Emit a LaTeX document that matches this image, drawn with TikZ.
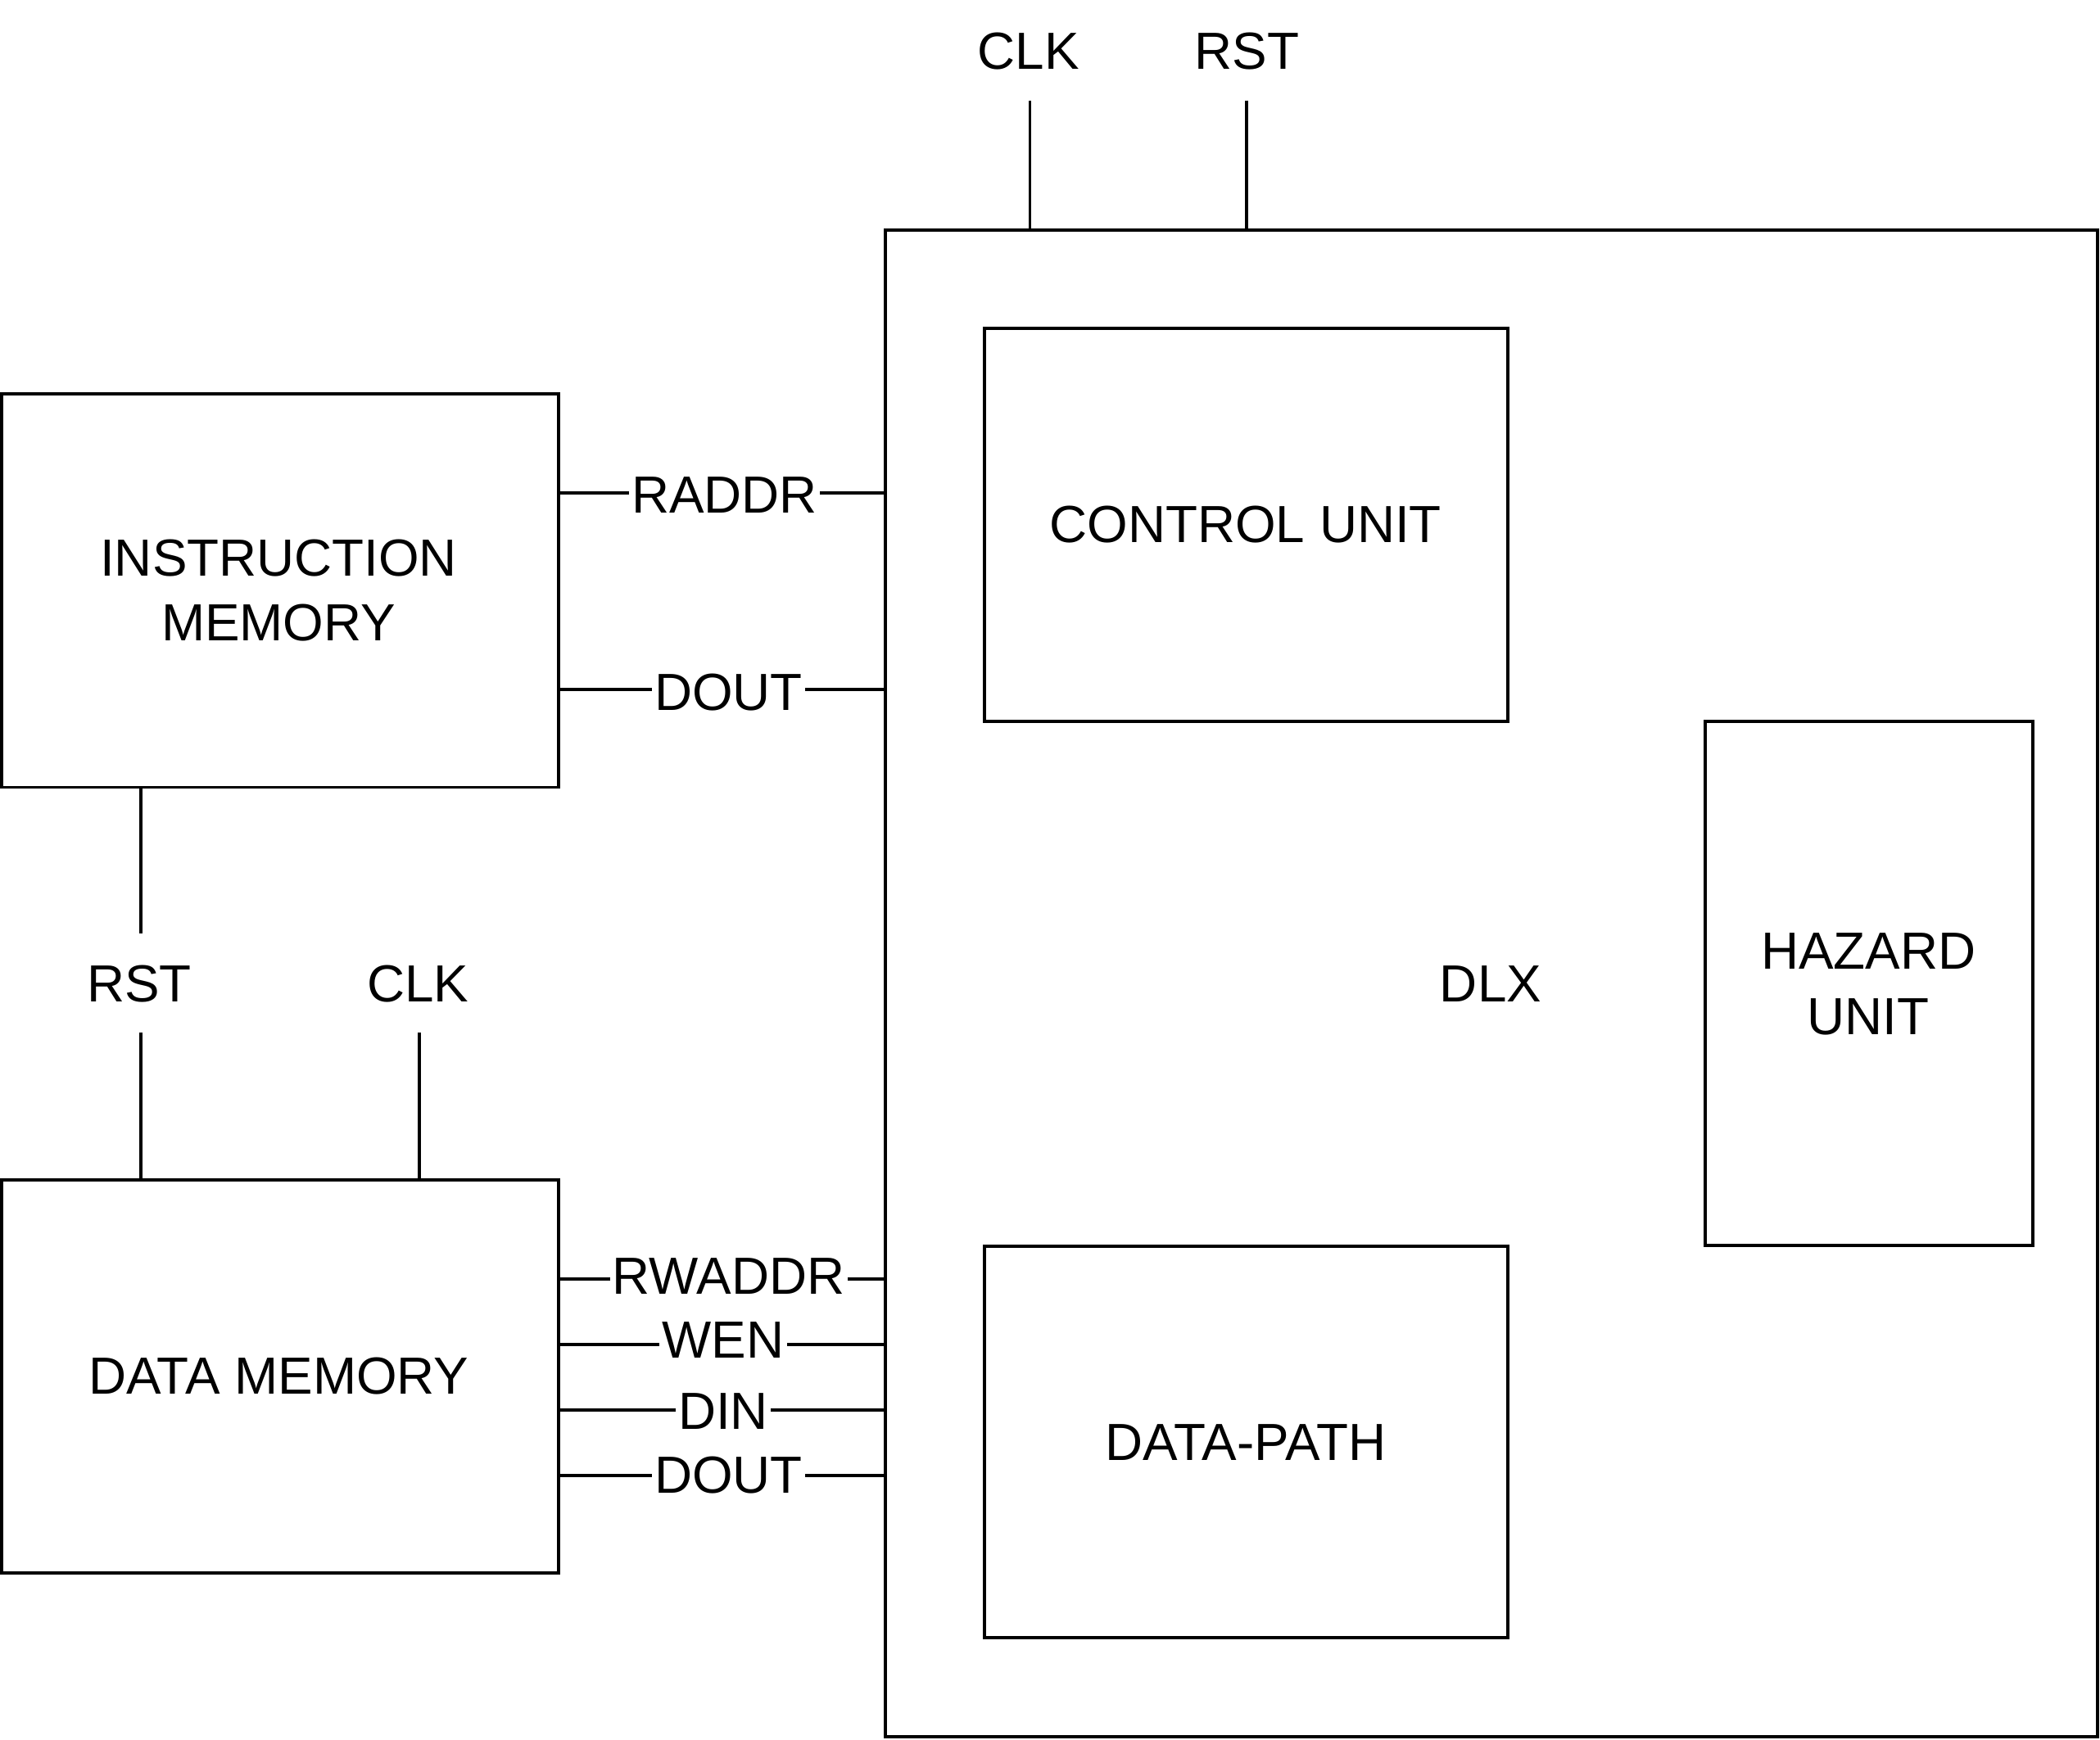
\documentclass[tikz,border=0pt]{standalone}
\usepackage{fontspec}
\setmainfont{Liberation Sans}
\begin{document}
\begin{tikzpicture}[x=1pt,y=-1pt,
  box/.style={draw,line width=2.4pt,inner sep=0pt},
  wire/.style={line width=2.4pt},
  lbl/.style={inner sep=0pt,font=\fontsize{39}{48.75}\selectfont,align=center},
  onwire/.style={lbl,fill=white,inner xsep=2pt,inner ysep=0pt}]
\useasboundingbox (0,0) rectangle (1568,1299);
% boxes
\draw[box] (661,172) rectangle (1566,1297);
\coordinate (dlxNW) at (661,172);
\coordinate (dlxW) at (661,735);
\draw[box] (735,245) rectangle (1126,539);
\draw[box] (1273,539) rectangle (1518,930);
\draw[box] (735,931) rectangle (1126,1223);
\draw[box] (1,294) rectangle (417,588);
\draw[box] (1,881) rectangle (417,1175);
% box texts
\node[lbl] (dlx) at (1113,735) {DLX};
\node[lbl] (cu) at (930,392) {CONTROL UNIT};
\node[lbl] (hu) at (1395,735) {HAZARD\\UNIT};
\node[lbl] (dp) at (930,1077) {DATA-PATH};
\node[lbl] (im) at (208,441) {INSTRUCTION\\MEMORY};
\node[lbl] (dm) at (208,1028) {DATA MEMORY};
% top signals
\node[lbl] (clkT) at (768,38) {CLK};
\node[lbl] (rstT) at (931,38) {RST};
\coordinate (clkTe) at (769,75);
\coordinate (rstTe) at (931,75);
\draw[wire] (clkTe) -- (769,172);
\draw[wire] (rstTe) -- (931,172);
% left signals
\node[lbl] (rstL) at (104,735) {RST};
\node[lbl] (clkL) at (312,735) {CLK};
\coordinate (rstLa) at (105,697);
\coordinate (rstLb) at (105,771);
\coordinate (clkLb) at (313,771);
\draw[wire] (105,588) -- (rstLa);
\draw[wire] (rstLb) -- (105,881);
\draw[wire] (clkLb) -- (313,881);
% bus wires
\foreach \y/\t/\n in {368/RADDR/raddr,515/DOUT/dout1,955/RWADDR/rwaddr,1004/WEN/wen,1053/DIN/din,1102/DOUT/dout2}{
  \coordinate (\n a) at (417,\y);
  \coordinate (\n b) at (661,\y);
  \draw[wire] (\n a) -- (\n b);
}
\node[onwire] (lraddr) at (541,370) {RADDR};
\node[onwire] (ldout1) at (544,517) {DOUT};
\node[onwire] (lrwaddr) at (544,953) {RWADDR};
\node[onwire] (lwen) at (540,1001) {WEN};
\node[onwire] (ldin) at (540,1054) {DIN};
\node[onwire] (ldout2) at (544,1102) {DOUT};
\end{tikzpicture}
\end{document}
